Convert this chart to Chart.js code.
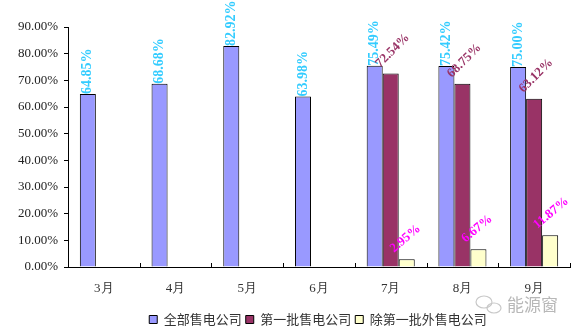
<!DOCTYPE html>
<html>
<head>
<meta charset="utf-8">
<script src="https://cdn.jsdelivr.net/npm/chart.js@4.4.1/dist/chart.umd.min.js"></script>
<style>
    html, body { margin: 0; padding: 0; background: #fff; }
    #wrap { width: 585px; height: 328px; position: relative; }
</style>
</head>
<body>
<div id="wrap"><canvas id="salesChart"></canvas></div>
<script>
const months = ['3月', '4月', '5月', '6月', '7月', '8月', '9月'];
const allCompanies = [64.85, 68.68, 82.92, 63.98, 75.49, 75.42, 75.00];
const firstBatch = [null, null, null, null, 72.54, 68.75, 63.12];
const othersBatch = [null, null, null, null, 2.95, 6.67, 11.87];
const seriesNames = ['全部售电公司', '第一批售电公司', '除第一批外售电公司'];
const yTicks = [0, 10, 20, 30, 40, 50, 60, 70, 80, 90];

const serif = "'Liberation Serif', 'Times New Roman', serif";
const cjk = "'Noto Sans CJK SC', 'Liberation Sans', sans-serif";

// rotated value labels over the bars, like the Excel original
const labelStyle = [
    { color: '#33CCFF', angle: -90, dx: 0, dy: 0, size: 14 },
    { color: '#993366', angle: -45, dx: -13, dy: -8, size: 13 },
    { color: '#FF00FF', angle: -40, dx: -15, dy: -9, size: 13 },
];

const barLabels = {
    id: 'barLabels',
    afterDatasetsDraw(chart) {
        const ctx = chart.ctx;
        chart.data.datasets.forEach((ds, i) => {
            const st = labelStyle[i];
            chart.getDatasetMeta(i).data.forEach((bar, j) => {
                const v = ds.data[j];
                if (v == null) return;
                ctx.save();
                ctx.translate(bar.x + st.dx, bar.y + st.dy);
                ctx.rotate(st.angle * Math.PI / 180);
                ctx.font = `bold ${st.size}px ${serif}`;
                ctx.fillStyle = st.color;
                ctx.textAlign = 'left';
                ctx.textBaseline = 'middle';
                ctx.fillText(v.toFixed(2) + '%', 0, 0);
                ctx.restore();
            });
        });
    },
};

// legend sits a bit lower and to the right of centre in the original
const legendShift = {
    id: 'legendShift',
    afterLayout(chart) {
        const lg = chart.legend;
        if (!lg) return;
        lg.left += 33;
        lg.right += 33;
        lg.top += 8;
        lg.bottom += 8;
    },
};

// small inward ticks between categories + watermark
const extras = {
    id: 'extras',
    afterDraw(chart) {
        const ctx = chart.ctx;
        const xs = chart.scales.x;
        const step = (xs.right - xs.left) / months.length;
        ctx.save();
        ctx.strokeStyle = '#000';
        ctx.lineWidth = 1;
        ctx.beginPath();
        for (let k = 1; k <= months.length; k++) {
            const x = Math.round(xs.left + k * step) + 0.5;
            ctx.moveTo(x, xs.top);
            ctx.lineTo(x, xs.top - 4);
        }
        ctx.stroke();

        // watermark
        ctx.strokeStyle = '#c8c8c8';
        ctx.lineWidth = 1.2;
        ctx.beginPath();
        ctx.ellipse(484, 302, 8, 6, 0, 0, Math.PI * 2);
        ctx.stroke();
        ctx.beginPath();
        ctx.ellipse(494, 308, 7, 5, 0, 0, Math.PI * 2);
        ctx.stroke();
        ctx.fillStyle = '#b8b8b8';
        ctx.font = `17px ${cjk}`;
        ctx.textAlign = 'left';
        ctx.textBaseline = 'middle';
        ctx.fillText('能源窗', 507, 305);
        ctx.restore();
    },
};

new Chart(document.getElementById('salesChart'), {
    type: 'bar',
    data: {
        labels: months,
        datasets: [
            {
                label: seriesNames[0],
                data: allCompanies,
                backgroundColor: '#9999FF',
                borderColor: '#000',
                borderWidth: 1,
            },
            {
                label: seriesNames[1],
                data: firstBatch,
                backgroundColor: '#993366',
                borderColor: '#000',
                borderWidth: 1,
            },
            {
                label: seriesNames[2],
                data: othersBatch,
                backgroundColor: '#FFFFCC',
                borderColor: '#000',
                borderWidth: 1,
            },
        ],
    },
    options: {
        responsive: true,
        maintainAspectRatio: false,
        animation: false,
        categoryPercentage: 0.67,
        barPercentage: 1,
        layout: { padding: { top: 27, right: 15, left: 0, bottom: 0 } },
        plugins: {
            legend: {
                position: 'bottom',
                labels: {
                    color: '#333',
                    boxWidth: 8,
                    boxHeight: 8,
                    padding: 4,
                    font: { size: 13, family: cjk },
                },
            },
            tooltip: { enabled: false },
        },
        scales: {
            x: {
                grid: { display: false, drawTicks: false },
                border: { color: '#000', width: 1 },
                ticks: { color: '#333', padding: 14, font: { size: 13, family: serif } },
                afterFit(scale) { scale.height = 34; },
            },
            y: {
                min: 0,
                max: 90,
                afterBuildTicks(scale) { scale.ticks = yTicks.map(v => ({ value: v })); },
                grid: { drawOnChartArea: false, tickLength: 4, color: '#000' },
                border: { color: '#000', width: 1 },
                ticks: {
                    color: '#222',
                    padding: 6,
                    font: { size: 13, family: serif },
                    callback: v => v.toFixed(2) + '%',
                },
                afterFit(scale) { scale.width = 68; },
            },
        },
    },
    plugins: [barLabels, legendShift, extras],
});
</script>
</body>
</html>
